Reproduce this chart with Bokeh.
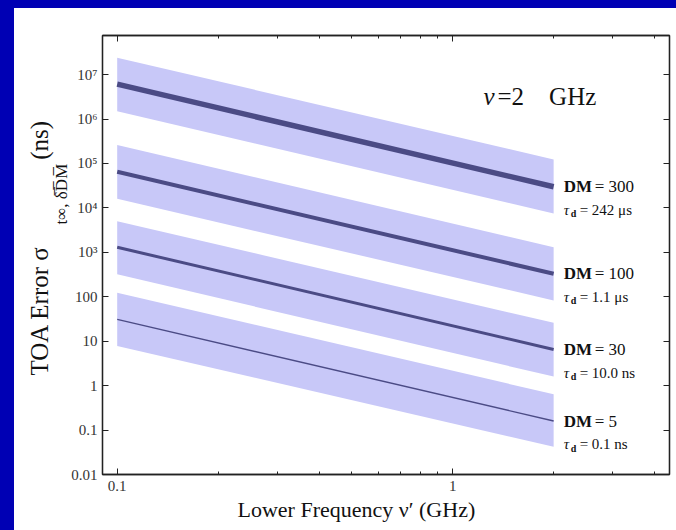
import math

from bokeh.core.properties import value
from bokeh.embed import file_html
from bokeh.layouts import column, row
from bokeh.models import (ColumnDataSource, CustomJSTickFormatter, Div,
                          FixedTicker, Label, LogAxis, Title)
from bokeh.plotting import figure
from bokeh.resources import INLINE

# ---------------------------------------------------------------- data
# lower-frequency end points of every curve (GHz)
freq = [0.1, 2.0]

dm_values = [300, 100, 30, 5]
tau_text = ["242 μs", "1.1 μs", "10.0 ns", "0.1 ns"]

# TOA error (ns) at 0.1 GHz and 2 GHz
err_dm300 = [6.1e6, 3.0e4]
err_dm100 = [6.5e4, 3.3e2]
err_dm30 = [1.3e3, 6.5]
err_dm5 = [31.0, 0.16]

# shaded ranges (ns) at 0.1 GHz and 2 GHz
hi_dm300 = [2.4e7, 1.23e5]
lo_dm300 = [1.5e6, 7.5e3]
hi_dm100 = [2.6e5, 1.3e3]
lo_dm100 = [1.6e4, 83.0]
hi_dm30 = [5.0e3, 26.0]
lo_dm30 = [3.2e2, 1.6]
hi_dm5 = [123.0, 0.64]
lo_dm5 = [7.8, 0.042]

y_ticks = [0.01, 0.1, 1, 10, 100, 1e3, 1e4, 1e5, 1e6, 1e7]
y_tick_labels = ["0.01", "0.1", "1", "10", "100", "10³", "10⁴", "10⁵", "10⁶", "10⁷"]
x_ticks = [0.1, 1]
x_tick_labels = ["0.1", "1"]
x_minor_ticks = [0.2, 0.3, 0.4, 0.5, 0.6, 0.7, 0.8, 0.9, 2, 3, 4]

# ---------------------------------------------------------------- style
SERIF = "Liberation Serif"
BLUE = "#0000b4"
BAND = "#c8c8f8"
LINE = "#4b4b85"
FRAME = "#222222"
TEXT = "#111111"
line_widths = [5.5, 4.0, 3.0, 1.4]

series = [
    (err_dm300, hi_dm300, lo_dm300),
    (err_dm100, hi_dm100, lo_dm100),
    (err_dm30, hi_dm30, lo_dm30),
    (err_dm5, hi_dm5, lo_dm5),
]

p = figure(width=662, height=522,
           x_axis_type="log", y_axis_type="log",
           x_range=(0.0904, 4.43), y_range=(0.01, 7.6e7),
           output_backend="svg", toolbar_location=None,
           min_border_left=88, min_border_right=7,
           min_border_top=27, min_border_bottom=56,
           background_fill_color="white", border_fill_color="white")
p.grid.visible = False
p.outline_line_color = FRAME
p.outline_line_width = 1.3

bottom_axis = p.below[0]
left_axis = p.left[0]

# bands and centre lines
for (err, hi, lo), lw in zip(series, line_widths):
    src = ColumnDataSource(dict(x=freq, y=err, hi=hi, lo=lo))
    p.varea(x="x", y1="lo", y2="hi", source=src, fill_color=BAND, fill_alpha=1.0)
    p.line(x="x", y="y", source=src, line_color=LINE, line_width=lw)

# right-hand annotations: DM and scattering time
ends = [s[0][1] for s in series]
lab_src = ColumnDataSource(dict(
    x=[freq[1]] * len(dm_values),
    y=ends,
    dm=["DM"] * len(dm_values),
    val=["= %d" % d for d in dm_values],
    tau=["τ"] * len(dm_values),
    sub=["d"] * len(dm_values),
    tval=["= " + t for t in tau_text],
))
common = dict(source=lab_src, text_font=value(SERIF), text_color=TEXT,
              text_baseline="middle", text_align="left")
p.text(x="x", y="y", text="dm", x_offset=10, text_font_size="17px",
       text_font_style="bold", **common)
p.text(x="x", y="y", text="val", x_offset=41, text_font_size="17px", **common)
p.text(x="x", y="y", text="tau", x_offset=10, y_offset=23, text_font_size="15px",
       text_font_style="italic", **common)
p.text(x="x", y="y", text="sub", x_offset=17, y_offset=27, text_font_size="10px",
       text_font_style="bold", **common)
p.text(x="x", y="y", text="tval", x_offset=26, y_offset=23, text_font_size="15px",
       **common)

# ---------------------------------------------------------------- axes
xticker = FixedTicker(ticks=x_ticks, minor_ticks=x_minor_ticks)
yticker = FixedTicker(ticks=y_ticks, minor_ticks=[])
blank = CustomJSTickFormatter(code="return ''")

top_axis = LogAxis(ticker=xticker, formatter=blank)
right_axis = LogAxis(ticker=yticker, formatter=blank)
p.add_layout(top_axis, "above")
p.add_layout(right_axis, "right")

bottom_axis.ticker = xticker
left_axis.ticker = yticker
bottom_axis.major_label_overrides = dict(zip(x_ticks, x_tick_labels))
left_axis.major_label_overrides = dict(zip(y_ticks, y_tick_labels))

for ax in [bottom_axis, left_axis, top_axis, right_axis]:
    ax.axis_line_color = FRAME
    ax.axis_line_width = 1.3
    ax.major_tick_in = 6
    ax.major_tick_out = 0
    ax.minor_tick_in = 3
    ax.minor_tick_out = 0
    ax.major_tick_line_color = FRAME
    ax.minor_tick_line_color = FRAME
    ax.major_label_text_font = SERIF
    ax.major_label_text_font_size = "15px"
    ax.major_label_text_color = "#333333"
for ax in [top_axis, right_axis]:
    ax.major_label_standoff = 0
bottom_axis.major_label_standoff = 6
left_axis.major_label_standoff = 5

# axis titles as side panels; the subscript sits in its own, narrower column
def side_title(text, place, offset, size, standoff):
    p.add_layout(Title(text=text, align="left", offset=offset, standoff=standoff,
                       text_font=SERIF, text_font_size=size,
                       text_font_style="normal", text_color=TEXT), place)

side_title("Lower Frequency ν′ (GHz)", "below", 135, "22px", 3)
side_title("t∞, δ\u0305D\u0305M\u0305", "left", 250, "17px", -5)
side_title("TOA Error σ\u2003\u2003\u2002\u2002\u2002(ns)", "left", 99, "25px", 0)

# observing frequency
for txt, xs, style in [("ν", 381, "italic"), ("=2\u2003GHz", 395, "normal")]:
    p.add_layout(Label(text=txt, x=xs, y=378, x_units="screen", y_units="screen",
                       text_font=SERIF, text_font_size="25px",
                       text_font_style=style, text_color=TEXT,
                       text_align="left", text_baseline="alphabetic"))

# ---------------------------------------------------------------- page
top_bar = Div(text="", width=676, height=8, margin=0,
              styles={"background-color": BLUE})
left_bar = Div(text="", width=14, height=522, margin=0,
               styles={"background-color": BLUE})
layout = column(top_bar, row(left_bar, p, spacing=0), spacing=0)

with open("out.html", "w") as f:
    f.write(file_html(layout, INLINE))
